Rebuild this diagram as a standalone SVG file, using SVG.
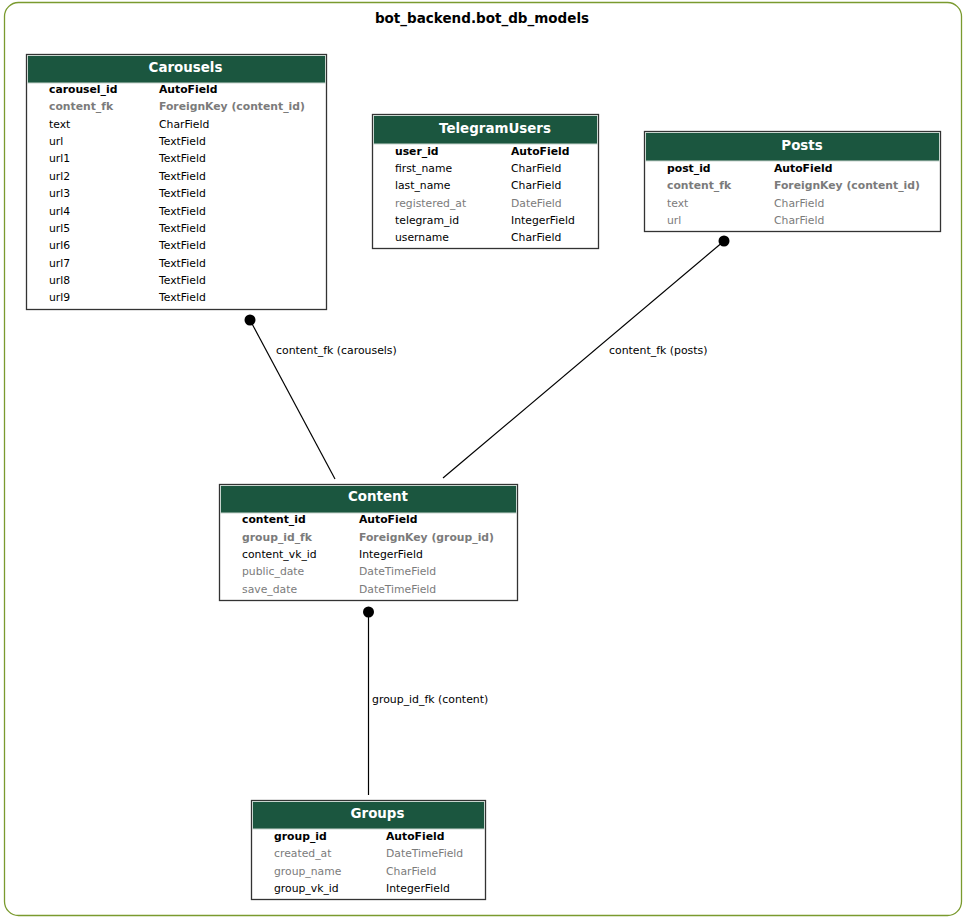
<svg xmlns="http://www.w3.org/2000/svg" width="970" height="922" viewBox="0 0 970 922">
  <style>
    text { font-family: "DejaVu Sans", "Liberation Sans", sans-serif; }
    .cluster { fill: #ffffff; stroke: #7a9a2e; stroke-width: 1.3; }
    .ctitle { font-size: 13.5px; font-weight: bold; fill: #000; text-anchor: middle; }
    .box { fill: #ffffff; stroke: #333333; stroke-width: 1.3; }
    .head { fill: #1b563f; stroke: #c8d4ce; stroke-width: 1; }
    .htext { font-size: 13.4px; font-weight: bold; fill: #ffffff; text-anchor: middle; }
    .f { font-size: 10.8px; fill: #000; }
    .b { font-weight: bold; }
    .g { fill: #7b7b7b; }
    .edge { stroke: #000; stroke-width: 1.2; fill: none; }
    .dot { fill: #000; }
    .elabel { font-size: 10.9px; fill: #000; }
  </style>

  <rect class="cluster" x="4.5" y="2.5" width="957" height="913" rx="14" ry="14"/>
  <text class="ctitle" x="482" y="23">bot_backend.bot_db_models</text>

  <!-- relations -->
  <g id="edges">
    <line class="edge" x1="250" y1="320" x2="335" y2="479"/>
    <circle class="dot" cx="250" cy="320" r="5.5"/>
    <text class="elabel" x="276" y="354">content_fk (carousels)</text>

    <line class="edge" x1="724" y1="241" x2="443" y2="478"/>
    <circle class="dot" cx="724" cy="241" r="5.5"/>
    <text class="elabel" x="609" y="354">content_fk (posts)</text>

    <line class="edge" x1="368.5" y1="612" x2="368.5" y2="795"/>
    <circle class="dot" cx="368.5" cy="612" r="5.5"/>
    <text class="elabel" x="372" y="703">group_id_fk (content)</text>
  </g>

  <g id="Carousels">
    <rect class="box" x="26.5" y="54.5" width="300" height="255"/>
    <rect class="head" x="27.5" y="55.5" width="298" height="27.5"/>
    <text class="htext" x="185.5" y="72">Carousels</text>
    <text class="f b" x="49" y="93">carousel_id</text><text class="f b" x="159" y="93">AutoField</text>
    <text class="f b g" x="49" y="110">content_fk</text><text class="f b g" x="159" y="110">ForeignKey (content_id)</text>
    <text class="f" x="49" y="128">text</text><text class="f" x="159" y="128">CharField</text>
    <text class="f" x="49" y="145">url</text><text class="f" x="159" y="145">TextField</text>
    <text class="f" x="49" y="162">url1</text><text class="f" x="159" y="162">TextField</text>
    <text class="f" x="49" y="180">url2</text><text class="f" x="159" y="180">TextField</text>
    <text class="f" x="49" y="197">url3</text><text class="f" x="159" y="197">TextField</text>
    <text class="f" x="49" y="215">url4</text><text class="f" x="159" y="215">TextField</text>
    <text class="f" x="49" y="232">url5</text><text class="f" x="159" y="232">TextField</text>
    <text class="f" x="49" y="249">url6</text><text class="f" x="159" y="249">TextField</text>
    <text class="f" x="49" y="267">url7</text><text class="f" x="159" y="267">TextField</text>
    <text class="f" x="49" y="284">url8</text><text class="f" x="159" y="284">TextField</text>
    <text class="f" x="49" y="301">url9</text><text class="f" x="159" y="301">TextField</text>
  </g>

  <g id="TelegramUsers">
    <rect class="box" x="372.5" y="114.5" width="226" height="134"/>
    <rect class="head" x="373.5" y="115.5" width="224" height="28.5"/>
    <text class="htext" x="495" y="133">TelegramUsers</text>
    <text class="f b" x="395" y="155">user_id</text><text class="f b" x="511" y="155">AutoField</text>
    <text class="f" x="395" y="172">first_name</text><text class="f" x="511" y="172">CharField</text>
    <text class="f" x="395" y="189">last_name</text><text class="f" x="511" y="189">CharField</text>
    <text class="f g" x="395" y="207">registered_at</text><text class="f g" x="511" y="207">DateField</text>
    <text class="f" x="395" y="224">telegram_id</text><text class="f" x="511" y="224">IntegerField</text>
    <text class="f" x="395" y="241">username</text><text class="f" x="511" y="241">CharField</text>
  </g>

  <g id="Posts">
    <rect class="box" x="644.5" y="131.5" width="296" height="100"/>
    <rect class="head" x="645.5" y="132.5" width="294" height="28.5"/>
    <text class="htext" x="802" y="150">Posts</text>
    <text class="f b" x="667" y="172">post_id</text><text class="f b" x="774" y="172">AutoField</text>
    <text class="f b g" x="667" y="189">content_fk</text><text class="f b g" x="774" y="189">ForeignKey (content_id)</text>
    <text class="f g" x="667" y="207">text</text><text class="f g" x="774" y="207">CharField</text>
    <text class="f g" x="667" y="224">url</text><text class="f g" x="774" y="224">CharField</text>
  </g>

  <g id="Content">
    <rect class="box" x="219.5" y="484.5" width="298" height="116"/>
    <rect class="head" x="220.5" y="485.5" width="296" height="27.5"/>
    <text class="htext" x="378" y="501">Content</text>
    <text class="f b" x="242" y="523">content_id</text><text class="f b" x="359" y="523">AutoField</text>
    <text class="f b g" x="242" y="541">group_id_fk</text><text class="f b g" x="359" y="541">ForeignKey (group_id)</text>
    <text class="f" x="242" y="558">content_vk_id</text><text class="f" x="359" y="558">IntegerField</text>
    <text class="f g" x="242" y="575">public_date</text><text class="f g" x="359" y="575">DateTimeField</text>
    <text class="f g" x="242" y="593">save_date</text><text class="f g" x="359" y="593">DateTimeField</text>
  </g>

  <g id="Groups">
    <rect class="box" x="251.5" y="800.5" width="234" height="99"/>
    <rect class="head" x="252.5" y="801.5" width="232" height="27.5"/>
    <text class="htext" x="377.5" y="818">Groups</text>
    <text class="f b" x="274" y="840">group_id</text><text class="f b" x="386" y="840">AutoField</text>
    <text class="f g" x="274" y="857">created_at</text><text class="f g" x="386" y="857">DateTimeField</text>
    <text class="f g" x="274" y="875">group_name</text><text class="f g" x="386" y="875">CharField</text>
    <text class="f" x="274" y="892">group_vk_id</text><text class="f" x="386" y="892">IntegerField</text>
  </g>
</svg>
